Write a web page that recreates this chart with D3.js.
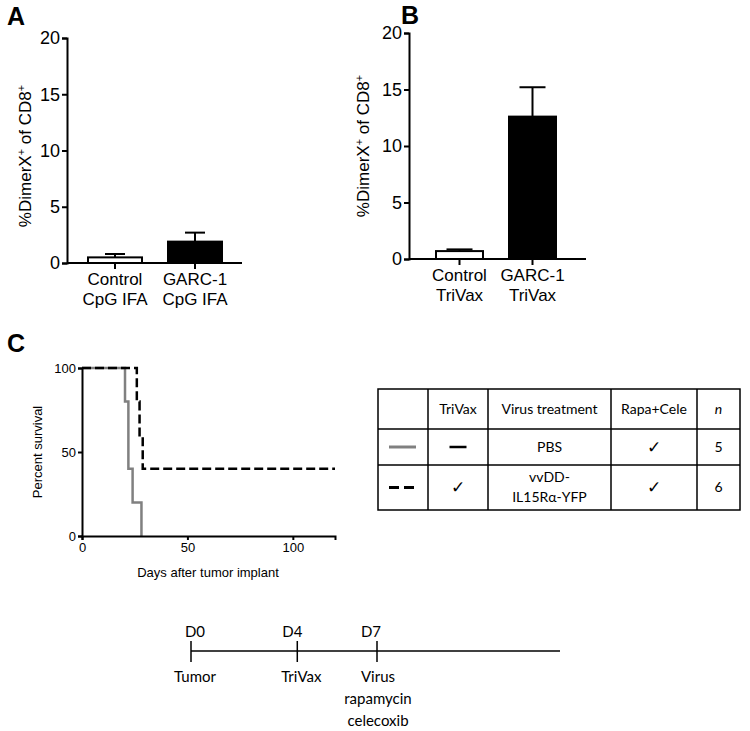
<!DOCTYPE html>
<html><head><meta charset="utf-8">
<script src="https://cdn.jsdelivr.net/npm/d3@7"></script>
<style>body{margin:0;background:#fff}svg{display:block}</style>
</head><body>
<script>
// ---- Data ----
const catsA = ["Control|CpG IFA", "GARC-1|CpG IFA"];
const meanA = [0.5, 1.9];
const errA = [0.3, 0.8];
const catsB = ["Control|TriVax", "GARC-1|TriVax"];
const meanB = [0.7, 12.6];
const errB = [0.15, 2.6];
const barTicks = [0, 5, 10, 15, 20];
const grayDays = [0, 20.4, 22, 24, 28.2];
const grayVals = [100, 80, 40, 20, 0];
const dashDays = [0, 26, 27.3, 28.8, 120];
const dashVals = [100, 80, 60, 40, 40];
const survXTicks = [0, 50, 100];
const survYTicks = [0, 50, 100];
const tableHeader = ["", "TriVax", "Virus treatment", "Rapa+Cele", "n"];
const tableRows = [["gray", "—", "PBS", "✓", "5"], ["dash", "✓", "vvDD-|IL15Rα-YFP", "✓", "6"]];
const timelineDays = ["D0", "D4", "D7"];
const timelinePos = [0, 4, 7];
const timelineEvents = ["Tumor", "TriVax", "Virus|rapamycin|celecoxib"];

const W = 750, H = 731;
const svg = d3.select("body").append("svg").attr("width", W).attr("height", H);
const AF = "Liberation Sans, Arial, Helvetica, sans-serif";
const CF = "Lato, 'Open Sans', sans-serif";

function barPanel(opt) {
  const g = svg.append("g");
  const y = d3.scaleLinear().domain([0, 20]).range([opt.y0, opt.y20]);
  opt.cats.forEach((c, i) => {
    const bx = opt.barX[i], bw = opt.barW;
    const cx = bx + bw / 2;
    g.append("line").attr("x1", cx).attr("x2", cx).attr("y1", y(opt.mean[i])).attr("y2", y(opt.mean[i] + opt.err[i]))
      .attr("stroke", "#000").attr("stroke-width", 2);
    g.append("line").attr("x1", cx - opt.capW).attr("x2", cx + opt.capW).attr("y1", y(opt.mean[i] + opt.err[i])).attr("y2", y(opt.mean[i] + opt.err[i]))
      .attr("stroke", "#000").attr("stroke-width", 2);
    g.append("rect").attr("x", bx).attr("width", bw).attr("y", y(opt.mean[i])).attr("height", y(0) - y(opt.mean[i]))
      .attr("fill", i === 0 ? "#fff" : "#000").attr("stroke", "#000").attr("stroke-width", 2);
    g.append("line").attr("x1", cx).attr("x2", cx).attr("y1", y(0)).attr("y2", y(0) + 6).attr("stroke", "#000").attr("stroke-width", 2);
    c.split("|").forEach((t, k) => {
      g.append("text").attr("x", cx).attr("y", y(0) + 22 + k * 20).attr("text-anchor", "middle")
        .attr("font-family", AF).attr("font-size", 17).text(t);
    });
  });
  const ya = g.append("g").attr("transform", `translate(${opt.x0},0)`)
    .call(d3.axisLeft(y).tickValues(barTicks).tickSize(5).tickPadding(2));
  ya.select(".domain").attr("stroke-width", 2);
  ya.selectAll(".tick line").attr("stroke-width", 2);
  ya.selectAll("text").attr("font-family", AF).attr("font-size", 18).attr("fill", "#000");
  g.append("line").attr("x1", opt.x0).attr("x2", opt.x1).attr("y1", y(0)).attr("y2", y(0)).attr("stroke", "#000").attr("stroke-width", 2);
  const t = g.append("text").attr("transform", `translate(${opt.titleX},${opt.titleY}) rotate(-90)`)
    .attr("text-anchor", "middle").attr("font-family", AF).attr("font-size", 17);
  t.append("tspan").text("%DimerX");
  t.append("tspan").attr("dy", -6).attr("font-size", 11).text("+");
  t.append("tspan").attr("dy", 6).text(" of CD8");
  t.append("tspan").attr("dy", -6).attr("font-size", 11).text("+");
  svg.append("text").attr("x", opt.lx).attr("y", opt.ly).attr("font-family", AF).attr("font-weight", "bold").attr("font-size", 25).text(opt.label);
}

barPanel({cats: catsA, mean: meanA, err: errA, x0: 67, x1: 242, y0: 263, y20: 38, barX: [88, 168], barW: 54, capW: 10,
  titleX: 31, titleY: 156, label: "A", lx: 7, ly: 25});
barPanel({cats: catsB, mean: meanB, err: errB, x0: 409, x1: 586, y0: 259, y20: 33, barX: [436, 509], barW: 47, capW: 13,
  titleX: 369, titleY: 146, label: "B", lx: 401, ly: 24});

// ---- Survival ----
const sg = svg.append("g");
const sx = d3.scaleLinear().domain([0, 120]).range([82, 335]);
const sy = d3.scaleLinear().domain([0, 100]).range([536, 368]);
const stepLine = d3.line().x(d => sx(d[0])).y(d => sy(d[1])).curve(d3.curveStepAfter);
sg.append("path").attr("d", stepLine(grayDays.map((d, i) => [d, grayVals[i]]))).attr("fill", "none")
  .attr("stroke", "#808080").attr("stroke-width", 2.5);
sg.append("path").attr("d", stepLine(dashDays.map((d, i) => [d, dashVals[i]]))).attr("fill", "none")
  .attr("stroke", "#000").attr("stroke-width", 2.5).attr("stroke-dasharray", "9,4");
const sxa = sg.append("g").attr("transform", "translate(0,536)").call(d3.axisBottom(sx).tickValues(survXTicks).tickSize(4).tickPadding(3));
const sya = sg.append("g").attr("transform", "translate(82,0)").call(d3.axisLeft(sy).tickValues(survYTicks).tickSize(4).tickPadding(2));
[sxa, sya].forEach(a => {
  a.select(".domain").attr("stroke-width", 2);
  a.selectAll(".tick line").attr("stroke-width", 2);
  a.selectAll("text").attr("font-family", AF).attr("font-size", 13).attr("fill", "#000");
});
sg.append("text").attr("x", 208).attr("y", 577).attr("text-anchor", "middle").attr("font-family", AF).attr("font-size", 13).text("Days after tumor implant");
sg.append("text").attr("transform", "translate(42,452) rotate(-90)").attr("text-anchor", "middle").attr("font-family", AF).attr("font-size", 13).text("Percent survival");
svg.append("text").attr("x", 7).attr("y", 352).attr("font-family", AF).attr("font-weight", "bold").attr("font-size", 25).text("C");

// ---- Table ----
const tg = svg.append("g");
const colX = [378, 428, 488, 611, 697, 740];
const rowY = [389, 429, 465, 510];
tg.append("rect").attr("x", colX[0]).attr("y", rowY[0]).attr("width", colX[5] - colX[0]).attr("height", rowY[3] - rowY[0])
  .attr("fill", "none").attr("stroke", "#000").attr("stroke-width", 1.5);
colX.slice(1, 5).forEach(x => tg.append("line").attr("x1", x).attr("x2", x).attr("y1", rowY[0]).attr("y2", rowY[3]).attr("stroke", "#000").attr("stroke-width", 1.5));
rowY.slice(1, 3).forEach(y => tg.append("line").attr("x1", colX[0]).attr("x2", colX[5]).attr("y1", y).attr("y2", y).attr("stroke", "#000").attr("stroke-width", 1.5));
const cx = i => (colX[i] + colX[i + 1]) / 2;
function cellText(i, yMid, txt, opts = {}) {
  const lines = txt.split("|");
  const lh = 20;
  lines.forEach((l, k) => {
    tg.append("text").attr("x", cx(i)).attr("y", yMid + (k - (lines.length - 1) / 2) * lh).attr("dy", "0.35em")
      .attr("text-anchor", "middle").attr("font-family", opts.font || CF).attr("font-size", opts.size || 14)
      .attr("font-weight", opts.bold ? "bold" : null)
      .attr("font-style", opts.italic ? "italic" : null).text(l);
  });
}
tableHeader.forEach((h, i) => { if (h) cellText(i, (rowY[0] + rowY[1]) / 2, h, {italic: h === "n"}); });
tableRows.forEach((r, ri) => {
  const ym = (rowY[ri + 1] + rowY[ri + 2]) / 2;
  tg.append("line").attr("x1", 389).attr("x2", 416).attr("y1", ym).attr("y2", ym)
    .attr("stroke", r[0] === "gray" ? "#808080" : "#000").attr("stroke-width", 3)
    .attr("stroke-dasharray", r[0] === "gray" ? null : "10,5");
  r.slice(1).forEach((v, k) => {
    const i = k + 1;
    if (v === "—") {
      tg.append("line").attr("x1", cx(i) - 8.5).attr("x2", cx(i) + 8.5).attr("y1", ym).attr("y2", ym).attr("stroke", "#000").attr("stroke-width", 2.5);
    } else if (v === "✓") {
      cellText(i, ym, v, {font: "DejaVu Sans", size: 17, bold: true});
    } else cellText(i, ym, v);
  });
});

// ---- Timeline ----
const lg = svg.append("g");
const tx = d3.scaleLinear().domain([0, 7]).range([191, 377]);
lg.append("line").attr("x1", tx(0)).attr("x2", 560).attr("y1", 651).attr("y2", 651).attr("stroke", "#000").attr("stroke-width", 1.5);
const labelOff = [4, -5, -6];
const evOff = [4, 4, 1];
timelinePos.forEach((d, i) => {
  lg.append("line").attr("x1", tx(d)).attr("x2", tx(d)).attr("y1", 641).attr("y2", 662).attr("stroke", "#000").attr("stroke-width", 1.5);
  lg.append("text").attr("x", tx(d) + labelOff[i]).attr("y", 637).attr("text-anchor", "middle").attr("font-family", CF).attr("font-size", 15).text(timelineDays[i]);
  timelineEvents[i].split("|").forEach((t, k) => {
    lg.append("text").attr("x", tx(d) + evOff[i]).attr("y", 682 + k * 22).attr("text-anchor", "middle").attr("font-family", CF).attr("font-size", 15).text(t);
  });
});
</script>
</body></html>
